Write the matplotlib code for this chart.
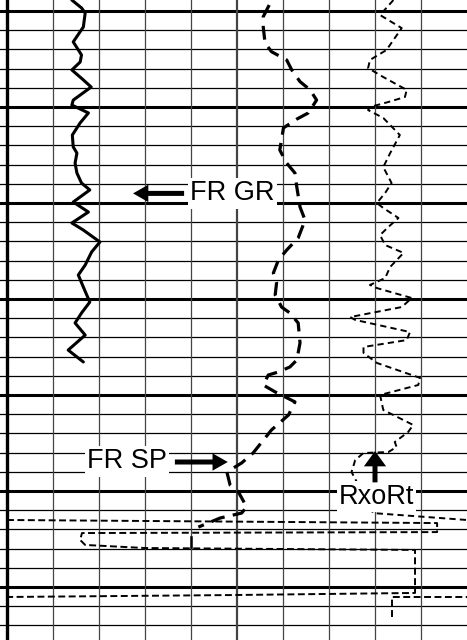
import matplotlib
matplotlib.use("Agg")
import matplotlib.pyplot as plt

plt.rcParams['font.family'] = ['Liberation Sans', 'DejaVu Sans']
plt.rcParams['lines.scale_dashes'] = False

# track is 10 divisions wide, depth in grid steps (thick line every 5)
gr_x = [1.41, 1.62, 1.70, 1.66, 1.44, 1.62, 1.59, 1.41, 1.66, 1.83, 1.44, 1.41, 1.77, 1.59,
        1.42, 1.44, 1.52, 1.48, 1.52, 1.62, 1.80, 1.44, 1.77, 1.41, 1.66, 2.02, 1.84, 1.70,
        1.55, 1.66, 1.80, 1.62, 1.48, 1.70, 1.33, 1.66]
gr_d = [-0.57, -0.16, 0.10, 0.83, 1.61, 2.29, 2.66, 3.07, 3.59, 3.96, 4.64, 4.90, 5.31, 5.83,
        6.46, 7.08, 7.40, 7.92, 8.44, 8.96, 9.32, 9.95, 10.47, 11.04, 11.41, 12.03, 12.55, 13.23,
        13.75, 14.38, 15.16, 15.73, 16.25, 16.88, 17.66, 18.28]

sp_x = [5.70, 5.57, 5.57, 5.61, 5.75, 6.08, 6.19, 6.37, 6.59, 6.73, 6.55, 6.30, 6.01, 5.93,
        6.08, 6.26, 6.30, 6.37, 6.48, 6.33, 6.08, 5.90, 5.79, 5.86, 5.83, 5.97, 6.15, 6.33,
        6.37, 6.30, 6.15, 5.90, 5.68, 5.57, 5.83, 6.26, 6.12, 5.75, 5.35, 5.10, 4.78, 4.85,
        5.03, 5.21, 5.10, 4.63, 4.16]
sp_d = [-0.31, 0.30, 0.82, 1.67, 2.12, 2.55, 3.07, 3.68, 4.11, 4.64, 5.31, 5.63, 6.09, 7.24,
        7.92, 8.44, 9.17, 10.21, 10.89, 11.82, 12.45, 12.97, 13.65, 14.17, 14.79, 15.42, 15.73, 16.25,
        17.29, 18.18, 18.54, 18.80, 18.96, 19.48, 19.84, 20.36, 21.04, 21.82, 23.02, 23.54, 24.01, 24.69,
        25.05, 25.83, 26.15, 26.41, 26.88]

rt_x = [8.40, 8.11, 8.58, 8.25, 7.89, 7.85, 8.18, 8.69, 8.65, 8.29, 7.89, 7.85, 8.18, 8.54,
        8.33, 8.18, 8.36, 8.22, 8.04, 8.18, 8.51, 8.29, 8.11, 8.22, 8.62, 8.33, 8.22, 7.89,
        8.04, 8.80, 8.58, 7.46, 7.57, 8.76, 8.69, 7.75, 7.75, 8.04, 8.98, 8.94, 8.11, 8.18,
        8.83, 8.72, 8.43, 8.47, 8.29, 7.75, 7.57, 7.49, 7.96, 10.0]
rt_d = [-0.57, 0.21, 0.89, 2.03, 2.55, 2.97, 3.44, 4.11, 4.48, 4.74, 5.00, 5.16, 5.57, 6.46,
        7.40, 8.13, 8.96, 9.48, 10.00, 10.26, 10.78, 11.25, 11.67, 12.19, 12.60, 13.33, 13.91, 14.27,
        14.43, 14.95, 15.42, 15.94, 16.09, 16.72, 17.14, 17.50, 17.81, 18.33, 19.11, 19.48, 20.00, 20.78,
        21.56, 21.93, 22.45, 22.71, 22.97, 23.02, 23.39, 24.01, 26.15, 26.51]

# off-scale wrap of the resistivity curve at the bottom
wrap_x = [0.0, 9.35, 9.35, 1.63, 1.59, 1.70, 3.00, 8.87, 8.87, 4.85, 0.0]
wrap_d = [26.51, 26.67, 27.14, 27.19, 27.55, 27.81, 27.97, 28.07, 30.31, 30.42, 30.52]
wrap2_x = [8.37, 8.37, 10.0]
wrap2_d = [31.56, 30.52, 30.52]
tick_x = [4.0, 4.0]
tick_d = [27.40, 27.92]

fig = plt.figure(figsize=(4.67, 6.4), dpi=100)
ax = fig.add_axes([0, 0, 1, 1])
ax.set_xlim(-7 / 46, 10)
ax.set_ylim(629 / 19.2, -11 / 19.2)
ax.axis('off')

# grid
for i in range(0, 33):
    ax.axhline(i, color='black', lw=2.2 if i % 5 == 0 else 0.9, zorder=1)
for i in range(1, 10):
    ax.axvline(i, color='#444444', lw=1.6 if i == 5 else 0.9, zorder=1)
ax.axvline(0, color='black', lw=2.4, zorder=1)

# curves
ax.plot(gr_x, gr_d, color='black', lw=2.2, solid_capstyle='round',
        solid_joinstyle='round', zorder=3)
ax.plot(sp_x, sp_d, color='black', lw=2.3, linestyle=(0, (10, 6)),
        dash_joinstyle='round', zorder=3)
ax.plot(rt_x, rt_d, color='black', lw=1.4, linestyle=(0, (4.5, 3)),
        dash_joinstyle='round', zorder=3)
ax.plot(wrap_x, wrap_d, color='black', lw=1.4, linestyle=(0, (5, 2.5)), zorder=3)
ax.plot(wrap2_x, wrap2_d, color='black', lw=1.4, linestyle=(0, (5, 2.5)), zorder=3)
ax.plot(tick_x, tick_d, color='black', lw=1.8, zorder=3)

# labels
box = dict(facecolor='white', edgecolor='none', pad=1.5)
ax.text(3.98, 9.5, 'FR GR', fontsize=19.5, ha='left', va='center', bbox=box, zorder=4)
ax.text(1.74, 23.46, 'FR SP', fontsize=19.5, ha='left', va='center', bbox=box, zorder=4)
ax.text(8.03, 25.29, 'RxoRt', fontsize=19.5, ha='center', va='center', bbox=box, zorder=4)

arrow = dict(arrowstyle='simple,head_length=1.1,head_width=1.25,tail_width=0.36',
             color='black', lw=0, shrinkA=0, shrinkB=0, mutation_scale=10)
ax.annotate('', xy=(2.74, 9.5), xytext=(3.85, 9.5), arrowprops=arrow, zorder=5)
ax.annotate('', xy=(4.80, 23.49), xytext=(3.65, 23.49), arrowprops=arrow, zorder=5)
arrow_up = dict(arrowstyle='simple,head_length=1.1,head_width=1.6,tail_width=0.36',
                color='black', lw=0, shrinkA=0, shrinkB=0, mutation_scale=10)
ax.annotate('', xy=(8.0, 22.92), xytext=(8.0, 24.55), arrowprops=arrow_up, zorder=5)

fig.savefig('out.png', dpi=100)
